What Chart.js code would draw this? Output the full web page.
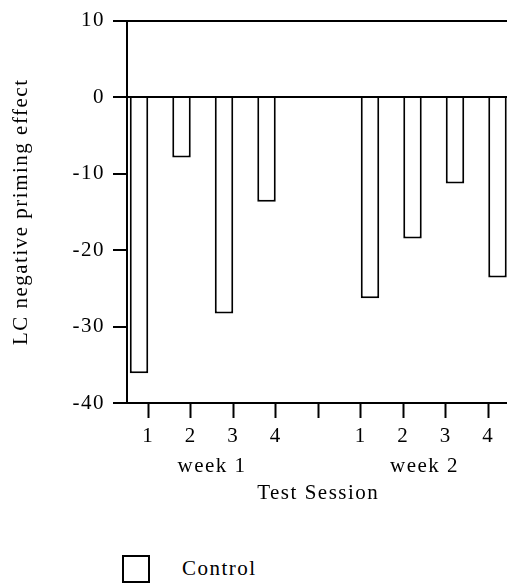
<!DOCTYPE html>
<html>
<head>
<meta charset="utf-8">
<script src="https://cdn.jsdelivr.net/npm/chart.js@4/dist/chart.umd.min.js"></script>
<style>
    body { margin: 0; background: #fff; overflow: hidden; width: 507px; height: 585px; }
    #wrap { position: absolute; left: 0; top: 0; }
    #legend { position: absolute; left: 122px; top: 555px; font-family: "Liberation Serif", serif; font-size: 21px; letter-spacing: 1.5px; color: #000; }
    #legend .box { position: absolute; left: 0; top: 0; width: 24px; height: 24px; border: 2px solid #000; background: #fff; }
    #legend .txt { position: absolute; left: 60px; top: 0; line-height: 26px; white-space: nowrap; }
</style>
</head>
<body>
<div id="wrap"><canvas id="primingChart" width="520" height="520"></canvas></div>
<div id="legend"><div class="box"></div><div class="txt">Control</div></div>
<script>
// session labels along the x axis (empty slot between the two weeks)
const sessions = ['1', '2', '3', '4', '', '1', '2', '3', '4'];
const weekLabels = ['week 1', 'week 2'];
const weekCenters = [1.5, 6.5];

// LC negative priming effect, control group
const week1Values = [-36.1, -7.9, -28.3, -13.7];
const week2Values = [-26.3, -18.5, -11.3, -23.6];

const yTicks = [10, 0, -10, -20, -30, -40];

const FONT = "'Liberation Serif', serif";
const SPACING = '1.5px';

/**
 * TEXT PLUGIN - letter spacing + week group labels
 */
const sessionText = {
    id: 'sessionText',
    beforeUpdate(chart) { chart.ctx.letterSpacing = SPACING; },
    beforeDraw(chart) { chart.ctx.letterSpacing = SPACING; },
    afterDraw(chart) {
        const { ctx } = chart;
        const x = chart.scales.x;
        ctx.save();
        ctx.letterSpacing = SPACING;
        ctx.font = `21px ${FONT}`;
        ctx.fillStyle = '#000';
        ctx.textAlign = 'center';
        ctx.textBaseline = 'middle';
        weekLabels.forEach((w, i) => {
            ctx.fillText(w, x.getPixelForValue(weekCenters[i]), x.top + 63);
        });
        ctx.restore();
    }
};

const pad = (vals, before, after) => [...Array(before).fill(null), ...vals, ...Array(after).fill(null)];

const barStyle = {
    backgroundColor: '#fff',
    borderColor: '#000',
    borderWidth: 2,
    barPercentage: 1,
    categoryPercentage: 0.87
};

new Chart(document.getElementById('primingChart'), {
    type: 'bar',
    data: {
        labels: sessions,
        datasets: [
            { label: 'Control', data: pad(week1Values, 0, 5), ...barStyle },
            { label: 'Control', data: pad(week2Values, 5, 0), ...barStyle }
        ]
    },
    options: {
        responsive: false,
        animation: false,
        devicePixelRatio: 1,
        layout: { padding: { top: 17, right: 10.5, bottom: 0, left: 0 } },
        plugins: { legend: { display: false }, tooltip: { enabled: false } },
        scales: {
            x: {
                offset: true,
                afterFit: s => { s.height = 117; },
                grid: {
                    offset: false,
                    drawOnChartArea: false,
                    tickLength: 15,
                    tickWidth: 2,
                    tickColor: '#000'
                },
                border: { display: true, color: '#000', width: 2 },
                ticks: {
                    color: '#000',
                    padding: 6,
                    maxRotation: 0,
                    autoSkip: false,
                    font: { family: FONT, size: 21 }
                },
                title: {
                    display: true,
                    text: 'Test Session',
                    color: '#000',
                    font: { family: FONT, size: 21 },
                    padding: { top: 0, bottom: 14 }
                }
            },
            y: {
                min: -40,
                max: 10,
                afterFit: s => { s.width = 127; },
                afterBuildTicks: s => { s.ticks = yTicks.map(v => ({ value: v })); },
                grid: {
                    color: c => (c.tick && (c.tick.value === 0 || c.tick.value === 10)) ? '#000' : 'rgba(0,0,0,0)',
                    lineWidth: 2,
                    tickLength: 14,
                    tickWidth: 2,
                    tickColor: '#000'
                },
                border: { display: true, color: '#000', width: 2 },
                ticks: {
                    color: '#000',
                    padding: 8,
                    font: { family: FONT, size: 21 }
                },
                title: {
                    display: true,
                    text: 'LC negative priming effect',
                    color: '#000',
                    font: { family: FONT, size: 21 },
                    padding: { top: 9, bottom: 0 }
                }
            }
        }
    },
    plugins: [sessionText]
});
</script>
</body>
</html>
